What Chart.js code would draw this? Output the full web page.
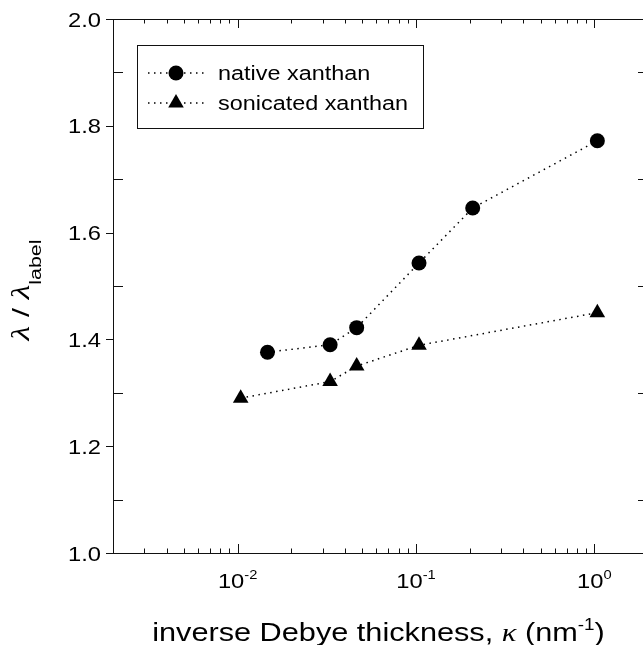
<!DOCTYPE html>
<html>
<head>
<meta charset="utf-8">
<script src="https://cdn.jsdelivr.net/npm/chart.js@4.4.0/dist/chart.umd.min.js"></script>
<style>
  html, body { margin: 0; padding: 0; background: #fff; overflow: hidden; }
  #wrap { width: 670px; height: 645px; }
</style>
</head>
<body>
<div id="wrap"><canvas id="chart" width="670" height="645"></canvas></div>
<script>
// data (kappa in nm^-1, lambda ratio)
const nativeKappa = [0.0147, 0.033, 0.0465, 0.104, 0.208, 1.04];
const nativeRatio = [1.376, 1.390, 1.422, 1.543, 1.646, 1.772];
const sonicKappa = [0.0104, 0.033, 0.0465, 0.104, 1.04];
const sonicRatio = [1.290, 1.321, 1.350, 1.389, 1.450];
const seriesNames = ["native xanthan", "sonicated xanthan"];

// axis ticks
const xMajorTicks = [0.01, 0.1, 1];
const xTickExponents = ["-2", "-1", "0"];
const xMinorTicks = [0.003, 0.004, 0.005, 0.006, 0.007, 0.008, 0.009,
  0.02, 0.03, 0.04, 0.05, 0.06, 0.07, 0.08, 0.09,
  0.2, 0.3, 0.4, 0.5, 0.6, 0.7, 0.8, 0.9];
const yMajorTicks = [1.0, 1.2, 1.4, 1.6, 1.8, 2.0];
const yTickLabels = ["1.0", "1.2", "1.4", "1.6", "1.8", "2.0"];
const yMinorTicks = [1.1, 1.3, 1.5, 1.7, 1.9];

const xTitle = ["inverse Debye thickness, ", "\u03ba", " (nm", "-1", ")"];
const yTitle = ["\u03bb", " / ", "\u03bb", "label"];

const SANS = '"Liberation Sans", Arial, sans-serif';
const SERIF = '"Liberation Serif", "Times New Roman", serif';

function toPoints(xs, ys) {
  return xs.map((v, i) => ({ x: v, y: ys[i] }));
}

// draws a row of text pieces, stretched horizontally by sx
function drawRuns(ctx, runs, x, y, align, sx) {
  let total = 0;
  runs.forEach(r => {
    ctx.font = r.font;
    r.w = ctx.measureText(r.text).width;
    total += r.w;
  });
  let start = 0;
  if (align === "center") start = -total * sx / 2;
  if (align === "right") start = -total * sx;
  ctx.save();
  ctx.translate(x + start, y);
  ctx.scale(sx, 1);
  ctx.textAlign = "left";
  ctx.textBaseline = "alphabetic";
  let cx = 0;
  runs.forEach(r => {
    ctx.font = r.font;
    ctx.fillText(r.text, cx, r.dy || 0);
    cx += r.w;
  });
  ctx.restore();
}

const framePlugin = {
  id: "frame",
  afterDraw(chart) {
    const ctx = chart.ctx;
    const a = chart.chartArea;
    const xs = chart.scales.x;
    const ys = chart.scales.y;
    ctx.save();
    ctx.strokeStyle = "#111";
    ctx.fillStyle = "#000";
    ctx.lineWidth = 1;
    ctx.setLineDash([]);

    // box
    ctx.strokeRect(a.left + 0.5, a.top + 0.5, a.right - a.left, a.bottom - a.top);

    ctx.beginPath();
    // x ticks, pointing in on top and bottom
    xMinorTicks.forEach(v => {
      const px = Math.round(xs.getPixelForValue(v)) + 0.5;
      ctx.moveTo(px, a.bottom); ctx.lineTo(px, a.bottom - 4.5);
      ctx.moveTo(px, a.top); ctx.lineTo(px, a.top + 4.5);
    });
    xMajorTicks.forEach(v => {
      const px = Math.round(xs.getPixelForValue(v)) + 0.5;
      ctx.moveTo(px, a.bottom); ctx.lineTo(px, a.bottom - 9);
      ctx.moveTo(px, a.top); ctx.lineTo(px, a.top + 9);
    });
    // y ticks: major outside, minor inside
    yMajorTicks.forEach(v => {
      const py = Math.round(ys.getPixelForValue(v)) + 0.5;
      ctx.moveTo(a.left, py); ctx.lineTo(a.left - 7, py);
      ctx.moveTo(a.right, py); ctx.lineTo(a.right + 7, py);
    });
    yMinorTicks.forEach(v => {
      const py = Math.round(ys.getPixelForValue(v)) + 0.5;
      ctx.moveTo(a.left, py); ctx.lineTo(a.left + 10, py);
      ctx.moveTo(a.right, py); ctx.lineTo(a.right - 10, py);
    });
    ctx.stroke();

    // tick labels
    yMajorTicks.forEach((v, i) => {
      const py = ys.getPixelForValue(v);
      drawRuns(ctx, [{ text: yTickLabels[i], font: "21px " + SANS }], a.left - 12, py + 7.5, "right", 1.13);
    });
    xMajorTicks.forEach((v, i) => {
      const px = xs.getPixelForValue(v);
      drawRuns(ctx, [
        { text: "10", font: "21px " + SANS },
        { text: xTickExponents[i], font: "13px " + SANS, dy: -9 }
      ], px, a.bottom + 35, "center", 1.13);
    });

    // axis titles
    drawRuns(ctx, [
      { text: xTitle[0], font: "26px " + SANS },
      { text: xTitle[1], font: "italic 26px " + SERIF },
      { text: xTitle[2], font: "26px " + SANS },
      { text: xTitle[3], font: "16px " + SANS, dy: -11 },
      { text: xTitle[4], font: "26px " + SANS }
    ], (a.left + a.right) / 2 - 2, 641, "center", 1.18);

    ctx.save();
    ctx.translate(29, (a.top + a.bottom) / 2 + 4);
    ctx.rotate(-Math.PI / 2);
    drawRuns(ctx, [
      { text: yTitle[0], font: "italic 25px " + SERIF },
      { text: yTitle[1], font: "24px " + SANS },
      { text: yTitle[2], font: "italic 25px " + SERIF },
      { text: yTitle[3], font: "16px " + SANS, dy: 12 }
    ], 0, 0, "center", 1.34);
    ctx.restore();

    // legend
    ctx.strokeStyle = "#111";
    ctx.lineWidth = 1;
    ctx.strokeRect(137.5, 45.5, 286, 83);
    const rows = [73, 103];
    chart.data.datasets.forEach((ds, i) => {
      const ly = rows[i];
      ctx.save();
      ctx.strokeStyle = "#000";
      ctx.lineWidth = 1.5;
      ctx.setLineDash(ds.borderDash);
      ctx.beginPath();
      ctx.moveTo(148, ly);
      ctx.lineTo(204, ly);
      ctx.stroke();
      ctx.setLineDash([]);
      ctx.fillStyle = "#000";
      Chart.helpers.drawPoint(ctx, {
        pointStyle: ds.pointStyle,
        radius: ds.pointRadius,
        rotation: 0,
        borderWidth: 0
      }, 176, ly);
      ctx.restore();
      drawRuns(ctx, [{ text: ds.label, font: "20px " + SANS }], 218, ly + 7, "left", 1.17);
    });

    ctx.restore();
  }
};

new Chart(document.getElementById("chart"), {
  type: "scatter",
  data: {
    datasets: [
      {
        label: seriesNames[0],
        data: toPoints(nativeKappa, nativeRatio),
        showLine: true,
        borderColor: "#000",
        borderWidth: 1.5,
        borderDash: [1.5, 4.5],
        pointStyle: "circle",
        pointRadius: 7.5,
        pointBackgroundColor: "#000",
        pointBorderColor: "#000",
        pointBorderWidth: 0
      },
      {
        label: seriesNames[1],
        data: toPoints(sonicKappa, sonicRatio),
        showLine: true,
        borderColor: "#000",
        borderWidth: 1.5,
        borderDash: [1.5, 4.5],
        pointStyle: "triangle",
        pointRadius: 9,
        pointBackgroundColor: "#000",
        pointBorderColor: "#000",
        pointBorderWidth: 0
      }
    ]
  },
  options: {
    responsive: false,
    devicePixelRatio: 1,
    animation: false,
    layout: { padding: { left: 113, top: 19, right: 22, bottom: 92 } },
    scales: {
      x: { type: "logarithmic", min: 0.002, max: 2, display: false },
      y: { type: "linear", min: 1, max: 2, display: false }
    },
    plugins: {
      legend: { display: false },
      tooltip: { enabled: false }
    }
  },
  plugins: [framePlugin]
});
</script>
</body>
</html>
